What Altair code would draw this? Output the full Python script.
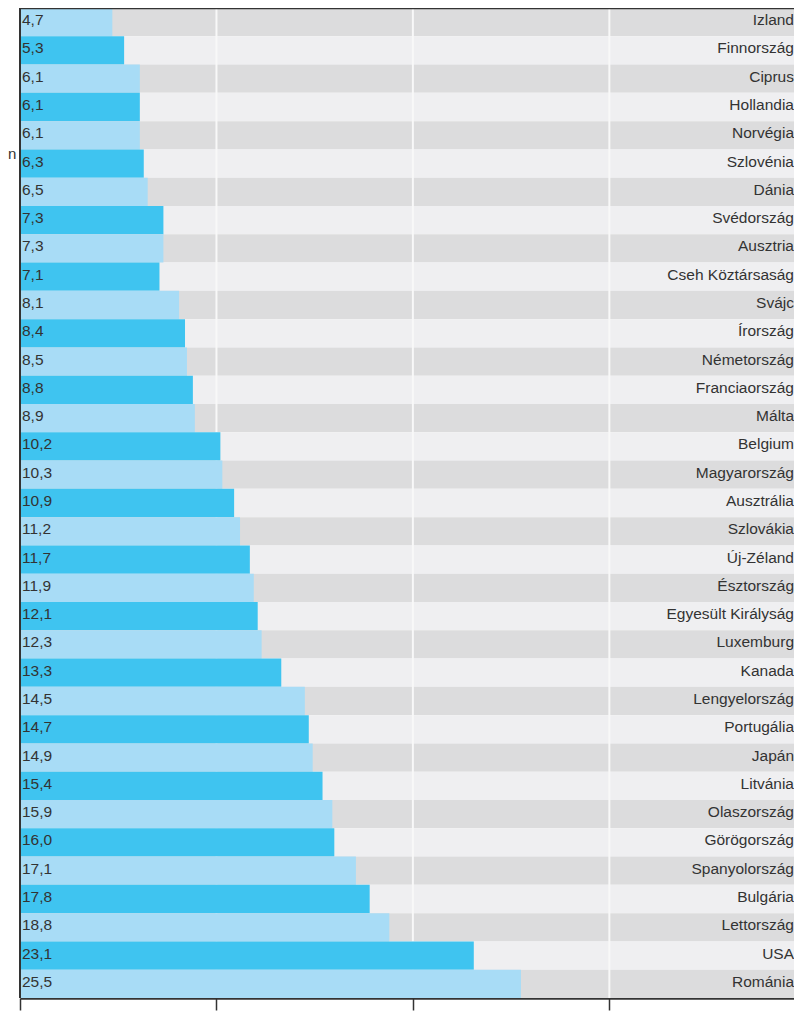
import altair as alt
import pandas as pd

countries = ["Izland", "Finnország", "Ciprus", "Hollandia", "Norvégia", "Szlovénia", "Dánia",
             "Svédország", "Ausztria", "Cseh Köztársaság", "Svájc", "Írország", "Németország",
             "Franciaország", "Málta", "Belgium", "Magyarország", "Ausztrália", "Szlovákia",
             "Új-Zéland", "Észtország", "Egyesült Királyság", "Luxemburg", "Kanada",
             "Lengyelország", "Portugália", "Japán", "Litvánia", "Olaszország", "Görögország",
             "Spanyolország", "Bulgária", "Lettország", "USA", "Románia"]
values = [4.7, 5.3, 6.1, 6.1, 6.1, 6.3, 6.5, 7.3, 7.3, 7.1, 8.1, 8.4, 8.5, 8.8, 8.9,
          10.2, 10.3, 10.9, 11.2, 11.7, 11.9, 12.1, 12.3, 13.3, 14.5, 14.7, 14.9, 15.4,
          15.9, 16.0, 17.1, 17.8, 18.8, 23.1, 25.5]
tick_values = [0, 10, 20, 30]
grid_values = [10, 20, 30]

W = 774
H = 990
FONT = "Liberation Sans"

df = pd.DataFrame({"orszag": countries, "ertek": values})
df["par"] = [i % 2 for i in range(len(countries))]

xscale = alt.Scale(domain=[0, 39.4], nice=False, zero=True)
yenc = alt.Y("orszag:N", sort=countries, axis=None,
             scale=alt.Scale(paddingInner=0, paddingOuter=0))

base = alt.Chart(df)

bands = base.mark_bar().encode(
    y=yenc,
    x=alt.value(0), x2=alt.value(W),
    color=alt.Color("par:N", scale=alt.Scale(domain=[0, 1], range=["#dcdcdd", "#efeff1"]), legend=None),
)

grid = alt.Chart(pd.DataFrame({"t": grid_values})).mark_rule(color="#f8f8f8", strokeWidth=2).encode(
    x=alt.X("t:Q", scale=xscale)
)

bars = base.mark_bar().encode(
    y=yenc,
    x=alt.X("ertek:Q", scale=xscale,
            axis=alt.Axis(values=tick_values, labels=False, ticks=True, tickSize=12,
                          tickColor="#333333", tickWidth=1.5, domain=True,
                          domainColor="#333333", domainWidth=2.5, grid=False, title=None)),
    color=alt.Color("par:N", scale=alt.Scale(domain=[0, 1], range=["#a8dcf6", "#3fc4f0"]), legend=None),
)

val_text = base.transform_calculate(
    lab="replace(format(datum.ertek, '.1f'), '.', ',')"
).mark_text(align="left", baseline="middle", dy=-2, font=FONT, fontSize=15.5, color="#333333").encode(
    y=yenc, x=alt.value(2), text="lab:N"
)

name_text = base.mark_text(align="right", baseline="middle", dy=-2, font=FONT, fontSize=15.5,
                           color="#333333").encode(
    y=yenc, x=alt.value(W), text="orszag:N"
)

frame_data = pd.DataFrame({"k": [0]})
left_line = alt.Chart(frame_data).mark_rule(color="#333333", strokeWidth=2).encode(
    x=alt.value(0), y=alt.value(0), y2=alt.value(H)
)
top_line = alt.Chart(frame_data).mark_rule(color="#333333", strokeWidth=2.5).encode(
    y=alt.value(0), x=alt.value(0), x2=alt.value(W)
)

stray = alt.Chart(pd.DataFrame({"orszag": ["Szlovénia"], "t": ["n"]})).mark_text(
    align="left", baseline="middle", dy=-10, font=FONT, fontSize=15, color="#333333"
).encode(y=yenc, x=alt.value(-12), text="t:N")

chart = alt.layer(bands, grid, bars, val_text, name_text, left_line, top_line, stray).resolve_scale(
    color="independent"
).properties(
    width=W, height=H,
    padding={"left": 12, "top": 0, "right": 0, "bottom": 13},
    autosize=alt.AutoSizeParams(type="none"),
).configure_view(stroke=None)

chart.save("out.html", embed_options={"renderer": "svg", "actions": False})
